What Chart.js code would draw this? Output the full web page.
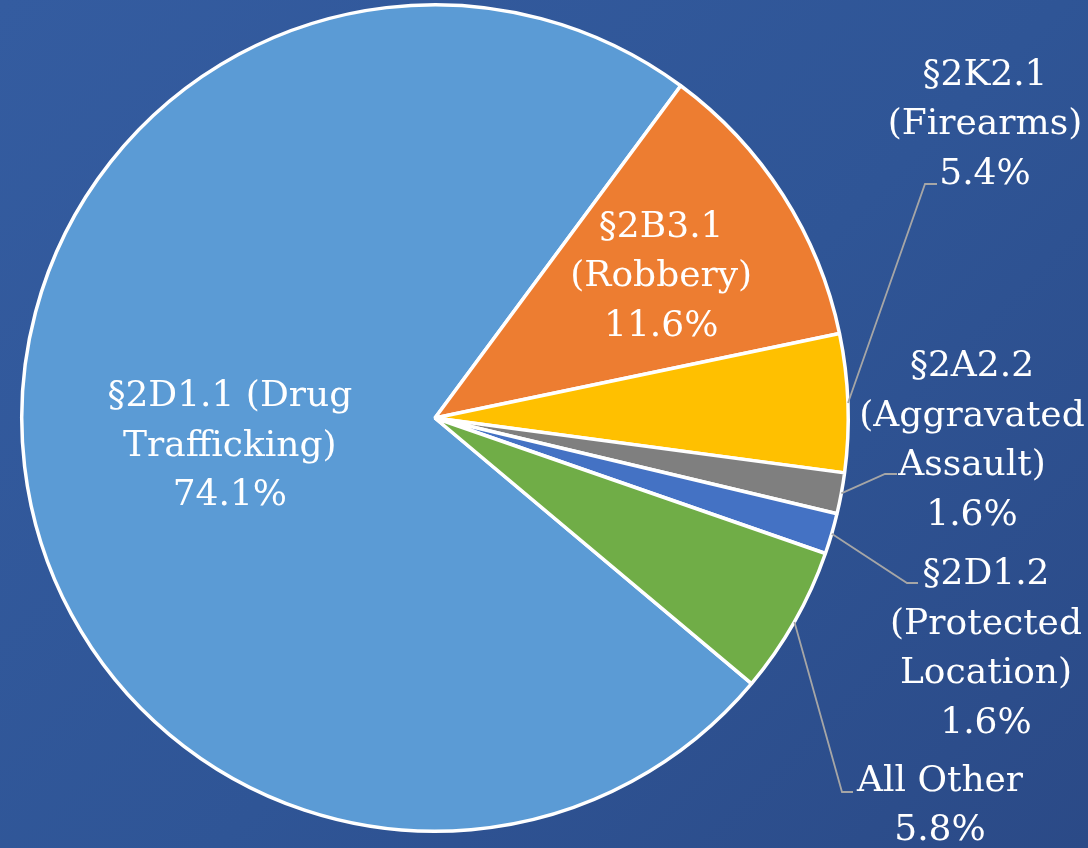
<!DOCTYPE html>
<html>
<head>
<meta charset="utf-8">
<script src="https://cdn.jsdelivr.net/npm/chart.js"></script>
<style>
  html, body { margin: 0; padding: 0; }
  body {
    width: 1088px; height: 848px; overflow: hidden;
    background: linear-gradient(135deg, #345ca0 0%, #2f5596 55%, #2b4a87 100%);
  }
  #wrap { position: relative; width: 1088px; height: 848px; }
</style>
</head>
<body>
<div id="wrap"><canvas id="myChart"></canvas></div>
<script>
// Chart data
const categories = [
    ['§2D1.1 (Drug', 'Trafficking)'],
    ['§2B3.1', '(Robbery)'],
    ['§2K2.1', '(Firearms)'],
    ['§2A2.2', '(Aggravated', 'Assault)'],
    ['§2D1.2', '(Protected', 'Location)'],
    ['All Other']
];
const shares = [74.1, 11.6, 5.4, 1.6, 1.6, 5.8];
const sliceColors = ['#5b9bd5', '#ed7d31', '#ffc000', '#7f7f7f', '#4472c4', '#70ad47'];

// where each label goes (inside: fraction of radius, outside: elbow + text spot)
const labelLayout = [
    { inside: 0.5 },
    { inside: 0.65 },
    { elbow: [925, 184], end: [937, 184], text: [985, 121] },
    { elbow: [885, 474], end: [897, 474], text: [972, 437] },
    { elbow: [907, 583], end: [918, 583], text: [986, 645] },
    { elbow: [842, 792], end: [853, 792], text: [940, 802] }
];

const lineHeight = 49.5;

const sliceLabels = {
    id: 'sliceLabels',
    afterDatasetsDraw(chart) {
        const ctx = chart.ctx;
        const arcs = chart.getDatasetMeta(0).data;
        ctx.save();
        ctx.font = '36px "DejaVu Serif"';
        ctx.fillStyle = '#ffffff';
        ctx.textAlign = 'center';
        ctx.textBaseline = 'middle';
        arcs.forEach((arc, i) => {
            const lay = labelLayout[i];
            const mid = (arc.startAngle + arc.endAngle) / 2;
            const lines = categories[i].concat([shares[i].toFixed(1) + '%']);
            let cx, cy;
            if (lay.inside) {
                const r = arc.outerRadius * lay.inside;
                cx = arc.x + Math.cos(mid) * r;
                cy = arc.y + Math.sin(mid) * r;
            } else {
                const r = arc.outerRadius;
                ctx.strokeStyle = '#a6a6a6';
                ctx.lineWidth = 1.8;
                ctx.beginPath();
                ctx.moveTo(arc.x + Math.cos(mid) * r, arc.y + Math.sin(mid) * r);
                ctx.lineTo(lay.elbow[0], lay.elbow[1]);
                ctx.lineTo(lay.end[0], lay.end[1]);
                ctx.stroke();
                cx = lay.text[0];
                cy = lay.text[1];
            }
            // middle baseline sits a bit high for this font
            const top = cy + 4 - (lines.length - 1) * lineHeight / 2;
            lines.forEach((t, k) => ctx.fillText(t, cx, top + k * lineHeight));
        });
        ctx.restore();
    }
};

const ctx = document.getElementById('myChart').getContext('2d');
const myChart = new Chart(ctx, {
    type: 'pie',
    data: {
        labels: categories,
        datasets: [{
            data: shares,
            backgroundColor: sliceColors,
            borderColor: '#ffffff',
            borderWidth: 3.5
        }]
    },
    options: {
        responsive: true,
        maintainAspectRatio: false,
        animation: false,
        rotation: 130,
        layout: { padding: { left: 20, top: 3, right: 238, bottom: 15 } },
        plugins: {
            legend: { display: false },
            tooltip: { enabled: false }
        }
    },
    plugins: [sliceLabels]
});
</script>
</body>
</html>
